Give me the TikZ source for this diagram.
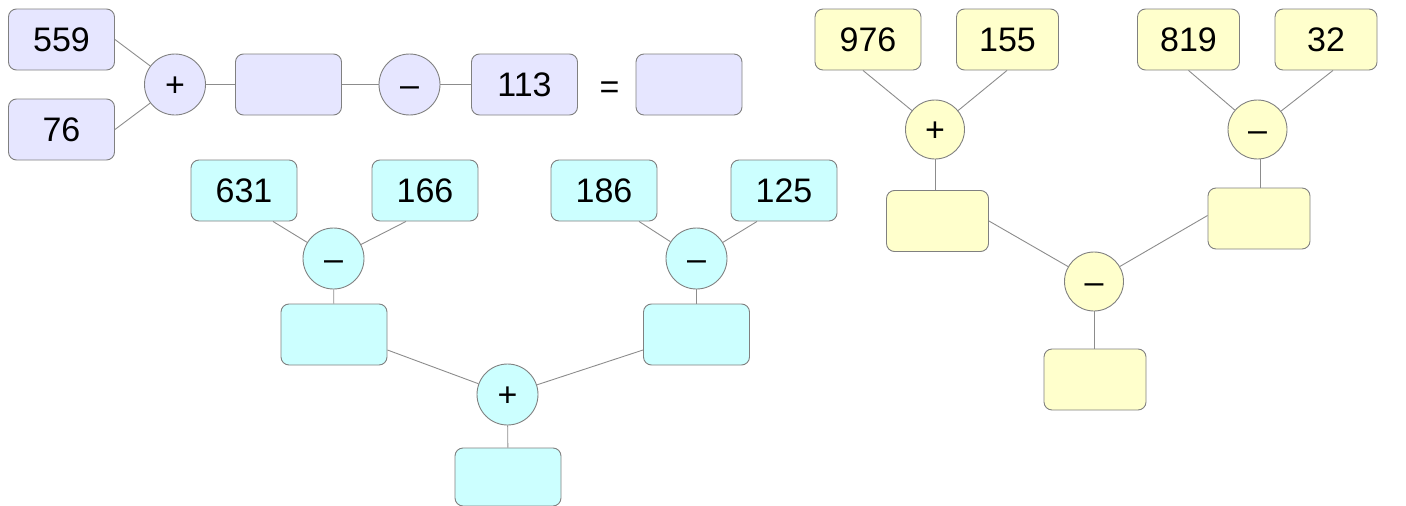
\documentclass[tikz,border=0pt]{standalone}
\usepackage{fontspec}
\setmainfont{Liberation Sans}
\definecolor{pfill}{HTML}{E6E6FF}
\definecolor{cfill}{HTML}{CCFFFF}
\definecolor{yfill}{HTML}{FFFFCC}
\definecolor{bord}{HTML}{808080}
\definecolor{conn}{HTML}{8C8C8C}
\begin{document}
\begin{tikzpicture}[x=1pt,y=-1pt,
  every node/.style={font=\fontsize{34}{40}\selectfont, inner sep=0pt, text height=24.3pt, text depth=0pt},
  numbox/.style={draw=bord, line width=0.9pt, rounded corners=8pt, minimum width=106pt, minimum height=61pt},
  opcirc/.style={draw=bord, line width=0.9pt, circle, minimum size=61pt},
  conline/.style={draw=conn, line width=0.9pt}]
\useasboundingbox (0,0) rectangle (1406,506);
% purple
\node[numbox, fill=pfill] (b559) at (61.5,39.5) {559};
\node[numbox, fill=pfill] (b76) at (61.5,129.5) {76};
\node[opcirc, fill=pfill] (p1) at (175,84.5) {+};
\node[numbox, fill=pfill] (r1) at (288.5,84.5) {};
\node[opcirc, fill=pfill] (m1) at (409.5,84.5) {–};
\node[numbox, fill=pfill] (b113) at (524.5,84.5) {113};
\node (eq) at (609.5,86.5) {=};
\node[numbox, fill=pfill] (res1) at (689,84.5) {};
\draw[conline] (b559.east) -- (p1);
\draw[conline] (b76.east) -- (p1);
\draw[conline] (p1) -- (r1);
\draw[conline] (r1) -- (m1);
\draw[conline] (m1) -- (b113);
% cyan
\node[numbox, fill=cfill] (b631) at (244,190.5) {631};
\node[numbox, fill=cfill] (b166) at (425,190.5) {166};
\node[opcirc, fill=cfill] (c1) at (333.5,258.5) {–};
\node[numbox, fill=cfill] (e1) at (334,334.5) {};
\node[numbox, fill=cfill] (b186) at (604,190.5) {186};
\node[numbox, fill=cfill] (b125) at (784,190.5) {125};
\node[opcirc, fill=cfill] (c2) at (696.5,258.5) {–};
\node[numbox, fill=cfill] (e2) at (696.5,334.5) {};
\node[opcirc, fill=cfill] (cp) at (507.5,394.5) {+};
\node[numbox, fill=cfill, minimum height=58pt] (ebot) at (508,477) {};
\draw[conline] ([xshift=29pt]b631.south) -- (c1);
\draw[conline] ([xshift=-19pt]b166.south) -- (c1);
\draw[conline] (c1) -- (e1);
\draw[conline] ([xshift=35pt]b186.south) -- (c2);
\draw[conline] ([xshift=-27pt]b125.south) -- (c2);
\draw[conline] (c2) -- (e2);
\draw[conline] ([yshift=-15.5pt]e1.east) -- (cp);
\draw[conline] ([yshift=-15.5pt]e2.west) -- (cp);
\draw[conline] (cp) -- (ebot);
% yellow
\node[numbox, fill=yfill] (y976) at (868,39.5) {976};
\node[numbox, fill=yfill, minimum width=102pt] (y155) at (1007.5,39.5) {155};
\node[opcirc, fill=yfill, minimum size=59pt] (yp) at (935,129.5) {+};
\node[numbox, fill=yfill, minimum width=102pt] (yl) at (937.5,221) {};
\node[numbox, fill=yfill, minimum width=102pt] (y819) at (1188.5,39.5) {819};
\node[numbox, fill=yfill, minimum width=102pt] (y32) at (1326,39.5) {32};
\node[opcirc, fill=yfill, minimum size=59pt] (ym2) at (1257.5,129.5) {–};
\node[numbox, fill=yfill, minimum width=102pt] (yr) at (1259,218.5) {};
\node[opcirc, fill=yfill, minimum size=59pt] (ym) at (1094,281.5) {–};
\node[numbox, fill=yfill, minimum width=102pt] (ybot) at (1095,379.5) {};
\draw[conline] ([xshift=-5pt]y976.south) -- (yp);
\draw[conline] ([xshift=-0.5pt]y155.south) -- (yp);
\draw[conline] (yp.south) -- (yp.south |- yl.north);
\draw[conline] (y819.south) -- (ym2);
\draw[conline] ([xshift=7pt]y32.south) -- (ym2);
\draw[conline] ([xshift=3pt]ym2.south) -- ([xshift=3pt]ym2.south |- yr.north);
\draw[conline] (yl.east) -- (ym);
\draw[conline] ([yshift=3pt]yr.west) -- (ym);
\draw[conline] (ym.south) -- (ym.south |- ybot.north);
\end{tikzpicture}
\end{document}
